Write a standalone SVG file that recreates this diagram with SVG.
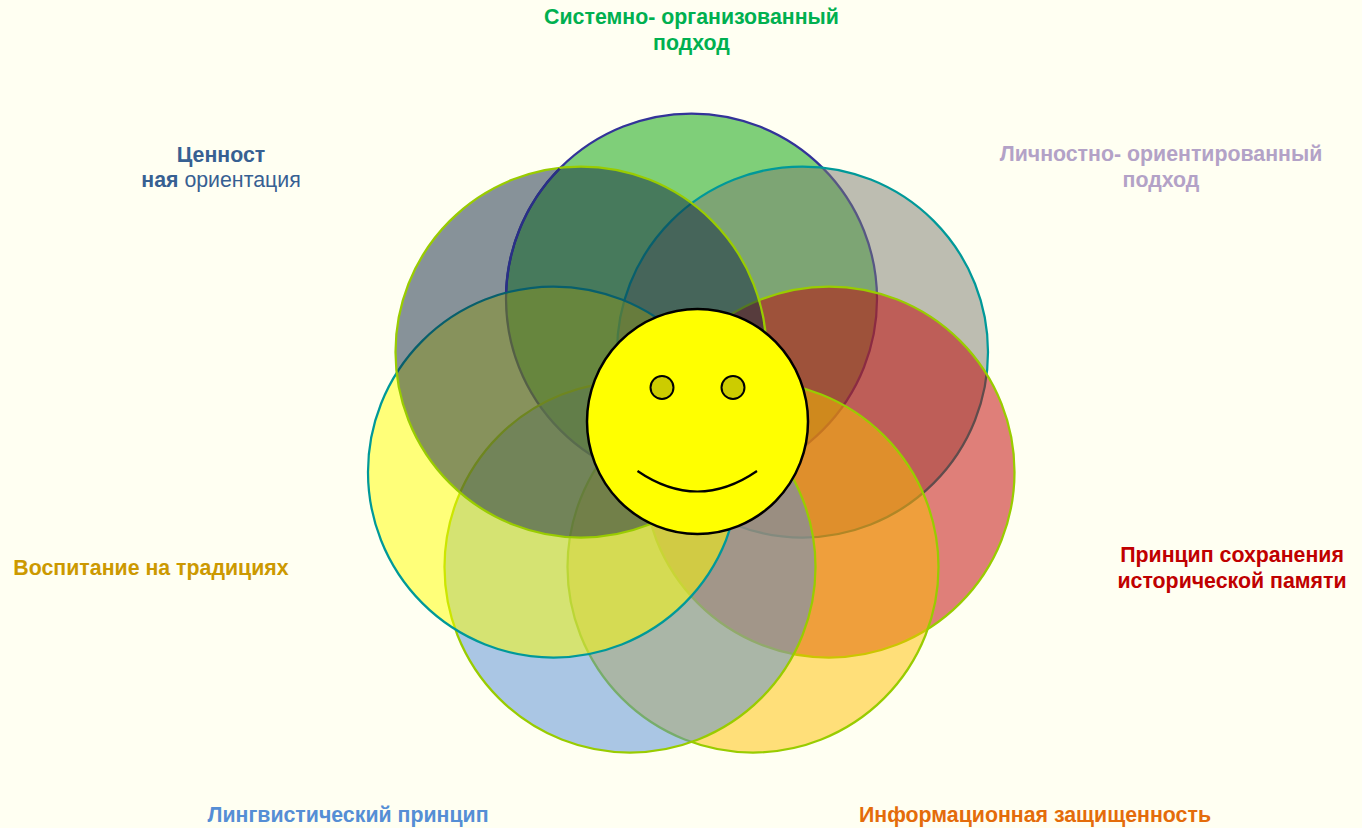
<svg xmlns="http://www.w3.org/2000/svg" width="1362" height="828" viewBox="0 0 1362 828">
<style>
.t{font-family:"Liberation Sans",Arial,sans-serif;font-size:21.33px;font-weight:700;text-anchor:middle}
.c{stroke-width:2.25}
</style>
<rect width="1362" height="828" fill="#FFFFF2"/>
<g id="circles">
<g id="n-green"><circle class="c" cx="691.5" cy="299" r="185.5" fill="#00A000" fill-opacity=".5" stroke="#333399"/></g>
<g id="n-grey"><circle class="c" cx="802.5" cy="352" r="185.5" fill="#7C7C70" fill-opacity=".5" stroke="#009999"/></g>
<g id="n-red"><circle class="c" cx="829" cy="472" r="185.5" fill="#C00000" fill-opacity=".5" stroke="#99CC00"/></g>
<g id="n-orange"><circle class="c" cx="753" cy="567" r="185.5" fill="#FFC000" fill-opacity=".5" stroke="#99CC00"/></g>
<g id="n-blue"><circle class="c" cx="630" cy="567" r="185.5" fill="#558ED5" fill-opacity=".5" stroke="#99CC00"/></g>
<g id="n-yellow"><circle class="c" cx="553.5" cy="472" r="185.5" fill="#FFFF00" fill-opacity=".5" stroke="#009999"/></g>
<g id="n-slate"><circle class="c" cx="581" cy="352" r="185.5" fill="#10253F" fill-opacity=".5" stroke="#99CC00"/></g>
<path class="c" d="M559.5 168.5A185.5 185.5 0 0 0 506 292" fill="none" stroke="#2A2F88"/>
</g>
<g id="n-face">
<ellipse cx="697.5" cy="421.5" rx="110.5" ry="112.5" fill="#FFFF00" stroke="#000" stroke-width="2.5"/>
<circle cx="662" cy="387.5" r="11.5" fill="#CCCC00" stroke="#000" stroke-width="2"/>
<circle cx="733" cy="387.5" r="11.5" fill="#CCCC00" stroke="#000" stroke-width="2"/>
<path d="M637.5 471Q697.5 512 757 471" fill="none" stroke="#000" stroke-width="2.2"/>
</g>
<g id="n-labels">
<text class="t" x="691.5" y="24" fill="#00B050">Системно- организованный</text>
<text class="t" x="691.5" y="50" fill="#00B050">подход</text>
<text class="t" x="1161" y="161" fill="#B3A2C7">Личностно- ориентированный</text>
<text class="t" x="1161" y="187" fill="#B3A2C7">подход</text>
<text class="t" x="1232" y="562" fill="#C00000">Принцип сохранения</text>
<text class="t" x="1232" y="588" fill="#C00000">исторической памяти</text>
<text class="t" x="1035" y="822" fill="#E46C0A">Информационная защищенность</text>
<text class="t" x="348" y="822" fill="#558ED5">Лингвистический принцип</text>
<text class="t" x="151" y="575" fill="#CC9900">Воспитание на традициях</text>
<text class="t" x="221" y="162" fill="#376092">Ценност</text>
<text class="t" x="221" y="187" fill="#376092">ная <tspan font-weight="400">ориентация</tspan></text>
</g>
</svg>
